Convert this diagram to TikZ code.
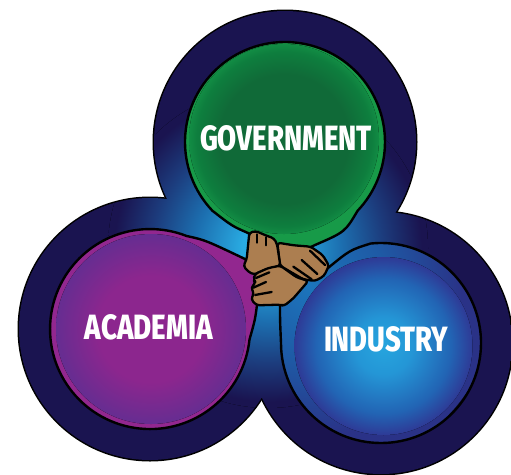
\documentclass[tikz,border=0pt]{standalone}
\usepackage{graphicx}
\usepackage{fontspec}
\setmainfont{Fira Sans}[BoldFont={Fira Sans ExtraBold}]
\definecolor{navy}{HTML}{1A1450}
\definecolor{rimgreen}{HTML}{179A48}
\definecolor{rimpurple}{HTML}{92278F}
\definecolor{skin}{HTML}{AC7E50}
\definecolor{gA}{HTML}{29ABE2}
\definecolor{gB}{HTML}{1C6EAF}
\definecolor{gC}{HTML}{1C3C7D}
\definecolor{dA}{HTML}{106A38}
\definecolor{dB}{HTML}{0E7E3E}
\definecolor{dC}{HTML}{128C44}
\definecolor{pA}{HTML}{8C268E}
\definecolor{pB}{HTML}{662D91}
\definecolor{bA}{HTML}{26A5DE}
\definecolor{bB}{HTML}{2496D6}
\definecolor{bC}{HTML}{2264B4}
\definecolor{bD}{HTML}{2E3A96}
\definecolor{rA}{HTML}{1C75BC}
\definecolor{rB}{HTML}{1E5AA5}
\definecolor{rC}{HTML}{2A3287}
\pgfdeclareradialshading{glow}{\pgfpoint{0bp}{0bp}}{
  color(0bp)=(gA); color(4bp)=(gA); color(11.5bp)=(gB); color(18bp)=(gC); color(24bp)=(navy); color(50bp)=(navy)}
\pgfdeclareradialshading{greendisc}{\pgfpoint{0bp}{0bp}}{
  color(0bp)=(dA); color(17bp)=(dA); color(23bp)=(dB); color(25bp)=(dC); color(50bp)=(dC)}
\pgfdeclareradialshading{purpledisc}{\pgfpoint{0bp}{0bp}}{
  color(0bp)=(pA); color(14bp)=(pA); color(25bp)=(pB); color(50bp)=(pB)}
\pgfdeclareradialshading{bluedisc}{\pgfpoint{0bp}{0bp}}{
  color(0bp)=(bA); color(8bp)=(bB); color(19bp)=(bC); color(25bp)=(bD); color(50bp)=(bD)}
\pgfdeclareradialshading{bluerim}{\pgfpoint{0bp}{0bp}}{
  color(0bp)=(rA); color(10bp)=(rB); color(20bp)=(rC); color(50bp)=(rC)}
\tikzset{
  edge/.style={draw=black,line width=2.4pt,line join=round},
  outerring/.style={draw=black,line width=3pt},
  hand/.style={draw=black,line width=2.3pt,fill=skin,line join=round,rounded corners=3pt},
  crease/.style={draw=black,line width=2.3pt,line cap=round},
  label/.style={text=white,inner sep=0pt,font=\bfseries}
}
\begin{document}
\begin{tikzpicture}[x=1pt,y=-1pt]
\useasboundingbox (0,0) rectangle (511,474);
% outer silhouette
\draw[outerring] (285,142) circle[radius=131];
\draw[outerring] (150,329) circle[radius=131];
\draw[outerring] (381,343) circle[radius=131];
\begin{scope}
  \clip (285,142) circle[radius=131] (150,329) circle[radius=131] (381,343) circle[radius=131];
  \fill[navy] (0,0) rectangle (511,474);
  \fill[shading=glow] (268,248) circle[radius=160];
\end{scope}
% government
\path (285,142)+(136.6:100) coordinate (gs) (285,142)+(43.4:100) coordinate (ge);
\filldraw[edge,fill=rimgreen] (gs) arc[start angle=136.6,end angle=403.4,radius=100]
  .. controls (345,232) .. (315,245) -- (280,262) -- (248,233) .. controls (232,226) .. (gs) -- cycle;
\fill[shading=greendisc] (284,139) circle[radius=95];
% academia
\filldraw[edge,fill=rimpurple] (257,305) .. controls (255,320) .. (249.5,339.5)
  arc[start angle=6,end angle=291.5,radius=100]
  .. controls (205,240) .. (245,259) -- (265,285) -- cycle;
\fill[shading=purpledisc] (151,329) circle[radius=95];
% industry
\begin{scope}
  \path[clip] (280,305) .. controls (280,320) .. (281,343)
    arc[start angle=180,end angle=-96,radius=100]
    .. controls (350,250) .. (328,268) -- (290,290) -- cycle;
  \fill[shading=bluerim] (310,285) circle[radius=190];
\end{scope}
\draw[edge] (280,305) .. controls (280,320) .. (281,343)
    arc[start angle=180,end angle=-96,radius=100]
    .. controls (350,250) .. (328,268);
\fill[shading=bluedisc] (383.5,346) circle[radius=89];
% hands
\begin{scope}[shift={(200,200)},x=0.3333pt,y=-0.3333pt]
  \draw[hand] (232,128) -- (282,136) -- (332,140) -- (368,165) -- (387,197) -- (372,228) -- (345,243) -- (310,238) -- (240,197) -- cycle;
  \draw[crease] (330,152) -- (375,195);
  \draw[crease] (305,180) -- (352,222);
  \draw[crease] (280,200) -- (335,238);
  \draw[hand] (148,98) -- (167,93) -- (190,103) -- (202,108) -- (222,115) -- (231,132) -- (241,197) -- (200,208) -- (162,224) -- (145,215) -- (130,198) -- (140,178) -- cycle;
  \draw[crease] (172,103) -- (172,128);
  \draw[crease] (198,112) -- (198,136);
  \draw[hand] (241,197) -- (205,204) -- (165,222) -- (160,240) -- (168,248) -- (153,262) -- (162,280) -- (153,298) -- (170,316) -- (240,314) -- (252,318) -- (280,295) -- (325,243) -- (290,232) -- cycle;
  \draw[crease] (168,234) -- (208,217);
  \draw[crease] (160,263) -- (198,246);
  \draw[crease] (165,285) -- (215,276);
\end{scope}
% labels
\node[label] (gov) at (286,138.5) {\resizebox{172pt}{25pt}{GOVERNMENT}};
\node[label] (aca) at (149,327.5) {\resizebox{128pt}{25pt}{ACADEMIA}};
\node[label] (ind) at (386,339.5) {\resizebox{124pt}{25pt}{INDUSTRY}};
\end{tikzpicture}
\end{document}
